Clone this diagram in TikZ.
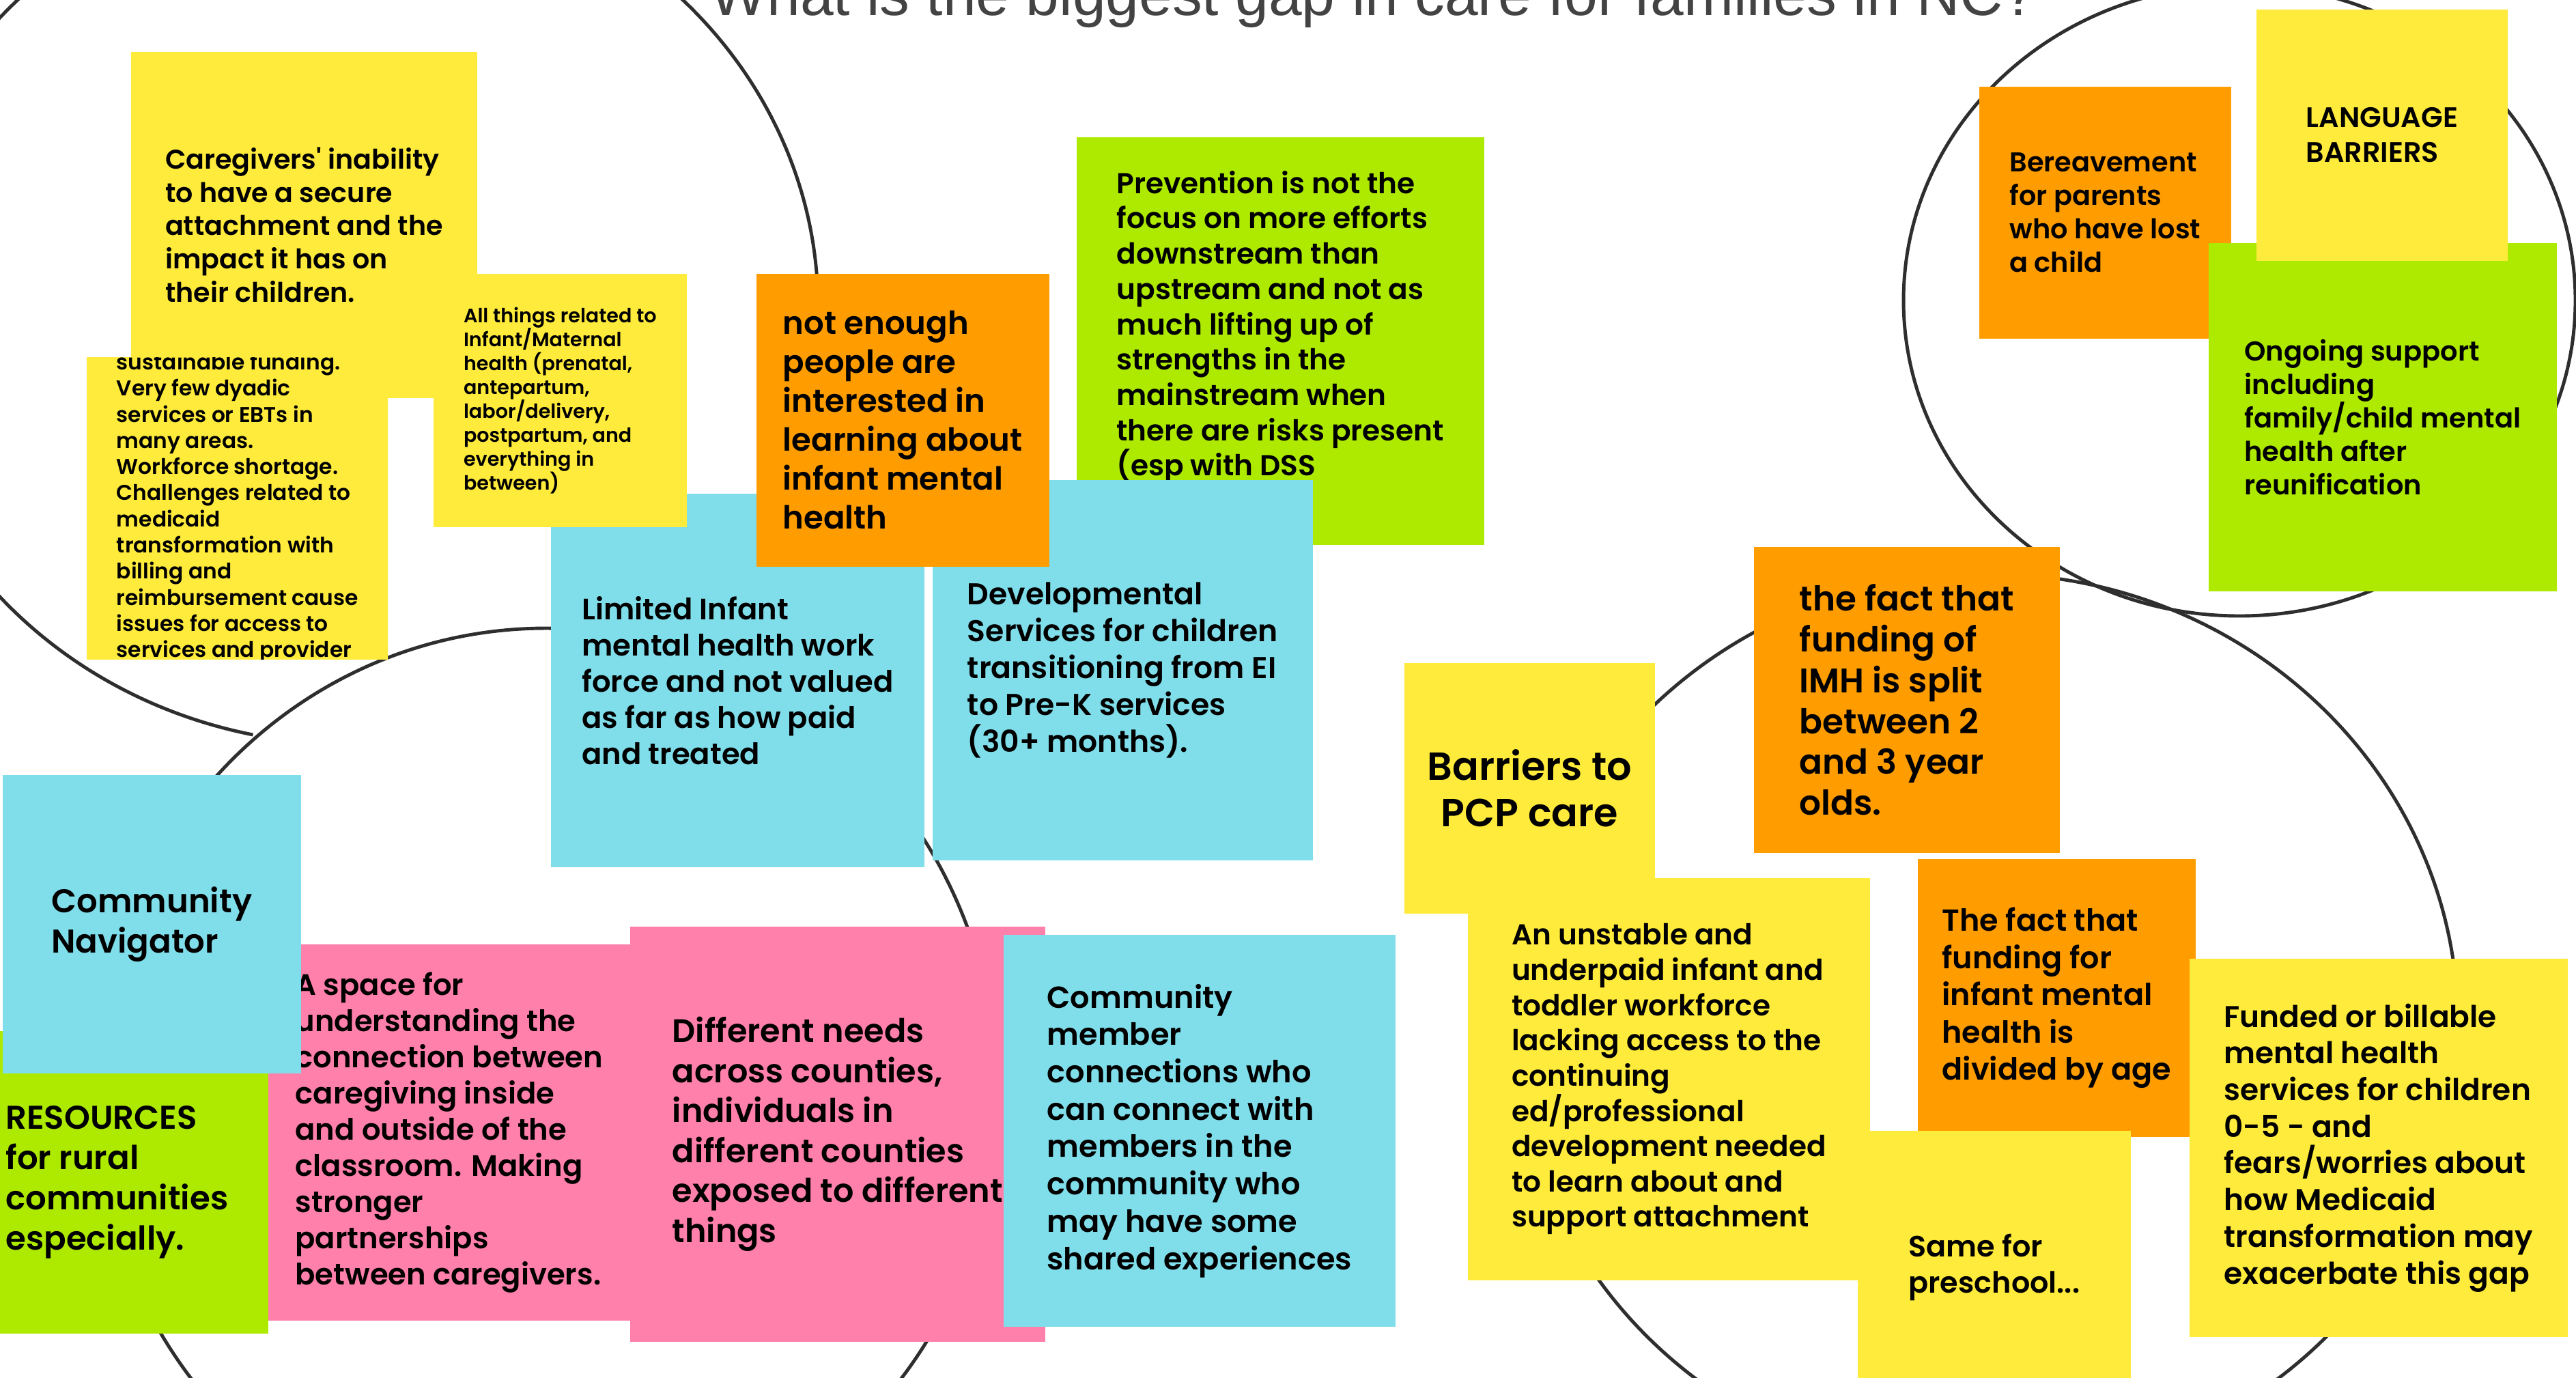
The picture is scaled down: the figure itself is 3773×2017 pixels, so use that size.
\documentclass[tikz,border=0pt]{standalone}
\usepackage{fontspec}
\IfFontExistsTF{Poppins SemiBold}
  {\newfontfamily\notefont{Poppins SemiBold}}
  {\newfontfamily\notefontbase{Poppins}\newcommand\notefont{\notefontbase\bfseries}}
\newfontfamily\titlefont{Liberation Sans}

\definecolor{ylw}{HTML}{FFEB3B}
\definecolor{org}{HTML}{FF9D00}
\definecolor{lime}{HTML}{AEEA00}
\definecolor{cyn}{HTML}{80DEEA}
\definecolor{pnk}{HTML}{FF80AB}
\definecolor{ringgray}{HTML}{2E2E2E}
\definecolor{titlegray}{HTML}{434343}

\tikzset{
  note/.style 2 args={anchor=north west, inner sep=0pt, align=left, text=black,
    font=\notefont\fontsize{#1}{#2}\selectfont},
  ring/.style={draw=ringgray, line width=1.4pt}
}

\begin{document}
\begin{tikzpicture}[x=0.01cm, y=-0.01cm]
  \useasboundingbox (0,0) rectangle (3773,2017);
  \clip (0,0) rectangle (3773,2017);
  \fill[white] (0,0) rectangle (3773,2017);
  \draw[ring] (513,450) ++(102:685 and 640) arc [start angle=102, end angle=420, x radius=685, y radius=640];
  \draw[ring] (800,1600) ellipse [x radius=660, y radius=680];
  \draw[ring] (3280,440) ellipse [x radius=492, y radius=462];
  \draw[ring] (2910,1500) ellipse [x radius=690, y radius=660];
  \node[anchor=base west, inner sep=0pt, text=titlegray,
       font=\titlefont\fontsize{24.9}{29}\selectfont] (title) at (1040,22)
       {What is the biggest gap in care for families in NC?};

  \node[note={11.26}{13.80}, fill=ylw, minimum size=5.07cm] (attach) at (191,75)
       {Caregivers' inability\\to have a secure\\attachment and the\\impact it has on\\their children.};
  \node[note={12.31}{15.08}, fill=cyn, minimum size=5.47cm] (workforce) at (806,722)
       {Limited Infant\\mental health work\\force and not valued\\as far as how paid\\and treated};
  \node[note={8.13}{9.96}, fill=ylw, minimum size=3.71cm] (maternal) at (634,400)
       {All things related to\\Infant/Maternal\\health (prenatal,\\antepartum,\\labor/delivery,\\postpartum, and\\everything in\\between)};
  \begin{scope}
    \clip (126,523) rectangle +(442,442);
    \node[note={8.90}{10.90}, fill=ylw, minimum size=4.42cm, anchor=west] (fund) at (126,744)
         {sustainable funding.\\Very few dyadic\\services or EBTs in\\many areas.\\Workforce shortage.\\Challenges related to\\medicaid\\transformation with\\billing and\\reimbursement cause\\issues for access to\\services and provider};
  \end{scope}
  \node[note={12.00}{14.71}, fill=lime, minimum size=5.97cm] (prevent) at (1576,200)
       {Prevention is not the\\focus on more efforts\\downstream than\\upstream and not as\\much lifting up of\\strengths in the\\mainstream when\\there are risks present\\(esp with DSS\\\phantom{x}};
  \node[note={12.54}{15.36}, fill=cyn, minimum size=5.57cm] (devel) at (1365,702)
       {Developmental\\Services for children\\transitioning from EI\\to Pre-K services\\(30+ months).};
  \node[note={13.24}{16.22}, fill=org, minimum size=4.29cm] (interest) at (1107,400)
       {not enough\\people are\\interested in\\learning about\\infant mental\\health};

  \node[note={13.70}{16.79}, fill=lime, minimum size=4.43cm] (rural) at (-51,1509)
       {RESOURCES\\for rural\\communities\\especially.};
  \node[note={12.31}{15.08}, fill=pnk, minimum width=5.30cm, minimum height=5.51cm] (space) at (392,1382)
       {A space for\\understanding the\\connection between\\caregiving inside\\and outside of the\\classroom. Making\\stronger\\partnerships\\between caregivers.};
  \node[note={13.70}{16.79}, fill=cyn, minimum size=4.37cm] (navig) at (3,1134)
       {Community\\Navigator};
  \node[note={13.57}{16.62}, fill=pnk, minimum size=6.08cm] (counties) at (922,1356)
       {Different needs\\across counties,\\individuals in\\different counties\\exposed to different\\things};
  \node[note={12.70}{15.56}, fill=cyn, minimum size=5.74cm] (members) at (1469,1368)
       {Community\\member\\connections who\\can connect with\\members in the\\community who\\may have some\\shared experiences};

  \node[note={16.29}{19.35}, fill=ylw, minimum size=3.67cm, align=center] (pcp) at (2056,970)
       {Barriers to\\PCP care};
  \node[note={11.99}{14.68}, fill=ylw, minimum size=5.89cm] (unstable) at (2149,1285)
       {An unstable and\\underpaid infant and\\toddler workforce\\lacking access to the\\continuing\\ed/professional\\development needed\\to learn about and\\support attachment};
  \node[note={14.25}{17.01}, fill=org, minimum size=4.48cm] (imh) at (2568,800)
       {the fact that\\funding of\\IMH is split\\between 2\\and 3 year\\olds.};
  \node[note={12.66}{15.51}, fill=org, minimum size=4.07cm] (byage) at (2808,1257)
       {The fact that\\funding for\\infant mental\\health is\\divided by age};
  \node[note={12.20}{14.94}, fill=ylw, minimum size=4.00cm] (preschool) at (2720,1655)
       {Same for\\preschool...};
  \node[note={12.47}{15.28}, fill=ylw, minimum size=5.54cm] (medicaid) at (3206,1403)
       {Funded or billable\\mental health\\services for children\\0-5 - and\\fears/worries about\\how Medicaid\\transformation may\\exacerbate this gap};

  \node[note={11.33}{13.88}, fill=org, minimum size=3.69cm] (bereave) at (2898,126)
       {Bereavement\\for parents\\who have lost\\a child};
  \node[note={11.37}{13.94}, fill=lime, minimum size=5.10cm] (ongoing) at (3234,355)
       {Ongoing support\\including\\family/child mental\\health after\\reunification};
  \node[note={11.73}{14.37}, fill=ylw, minimum size=3.68cm] (language) at (3304,13)
       {LANGUAGE\\BARRIERS};
\end{tikzpicture}
\end{document}
